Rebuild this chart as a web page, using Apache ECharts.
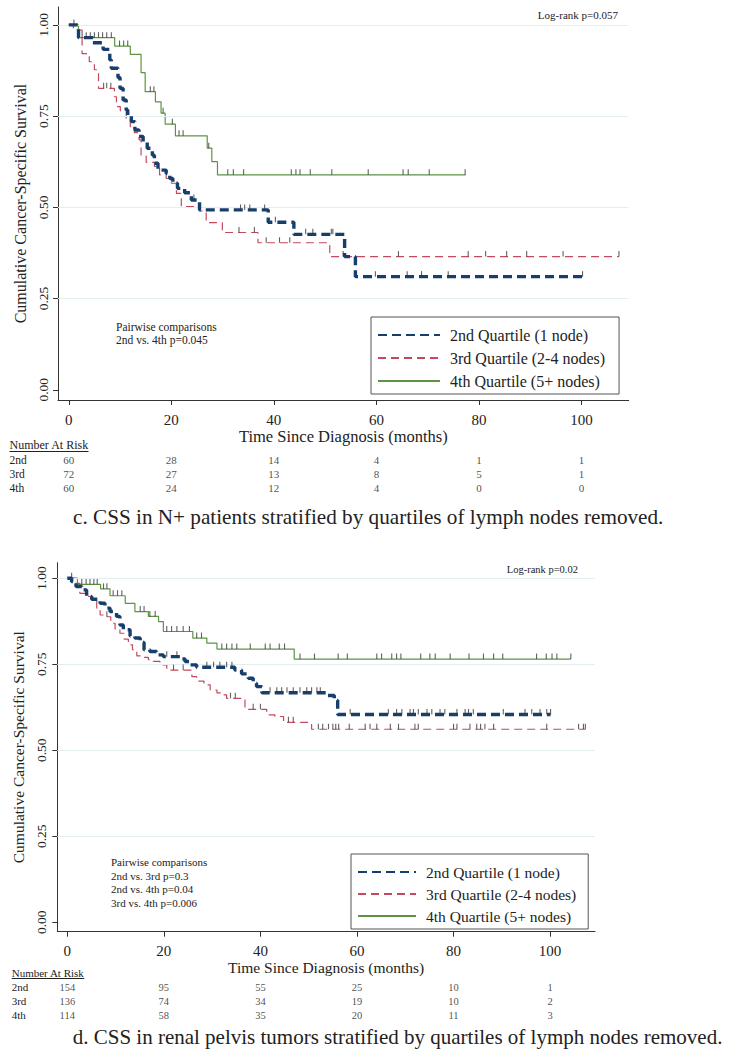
<!DOCTYPE html>
<html><head><meta charset="utf-8">
<script src="https://cdn.jsdelivr.net/npm/echarts@6/dist/echarts.min.js"></script>
<style>html,body{margin:0;padding:0;background:#fff}#c{width:734px;height:1050px}</style>
</head><body><div id="c"></div>
<script>
// ---------- data ----------
const groupNames = ['2nd Quartile (1 node)', '3rd Quartile (2-4 nodes)', '4th Quartile (5+ nodes)'];
const riskRows = ['2nd', '3rd', '4th'];
const xTicks = [0, 20, 40, 60, 80, 100];
const yTicks = [0, 0.25, 0.5, 0.75, 1];
const yGrid = [0.25, 0.5, 0.75, 1];

// Panel c: N+ patients
const cSteps2nd = [[0,1],[1.9,0.965],[4.7,0.951],[6.7,0.933],[8.0,0.904],[8.3,0.881],[9.6,0.856],[10.0,0.826],[10.6,0.794],[11.2,0.767],[11.5,0.753],[12.2,0.735],[12.9,0.712],[13.7,0.694],[14.5,0.680],[15.3,0.662],[16.3,0.643],[16.7,0.621],[17.4,0.602],[19.0,0.593],[19.7,0.579],[20.3,0.566],[21.2,0.552],[22.6,0.540],[23.9,0.520],[25.5,0.493],[38.9,0.459],[43.9,0.426],[53.8,0.365],[55.9,0.310],[100.2,0.310]];
const cSteps3rd = [[0,1],[0.9,0.986],[2.6,0.921],[4.0,0.899],[5.0,0.877],[5.8,0.826],[8.9,0.803],[9.3,0.776],[10.05,0.764],[11.2,0.744],[12.0,0.717],[12.8,0.705],[13.7,0.685],[14.1,0.641],[15.1,0.623],[16.7,0.612],[17.7,0.589],[19.0,0.579],[20.0,0.566],[21.0,0.538],[21.95,0.502],[25.6,0.490],[26.8,0.458],[29.95,0.431],[36.9,0.403],[50.9,0.365],[107.3,0.365]];
const cSteps4th = [[0,1],[1.9,0.965],[8.95,0.942],[12.0,0.919],[14.1,0.869],[14.9,0.817],[16.9,0.789],[18.0,0.758],[18.8,0.728],[20.8,0.696],[27.0,0.662],[27.9,0.625],[29.0,0.589],[77.4,0.589]];
const cCens2nd = [24.4,33.5,34.3,35.3,38.2,40.3,46.2,47.6,51.2,51.5,59.8,66.0,68.8,74.0,100.2];
const cCens3rd = [6.8,7.4,8.2,33.2,36.2,38.5,41.1,43.1,53.5,64.3,77.9,81.3,85.4,89.3,96.4,107.3];
const cCens4th = [1.0,2.6,3.4,4.2,5.0,5.8,6.6,7.4,8.3,9.9,10.7,11.5,15.9,16.6,18.4,20.2,21.5,22.3,27.3,31.0,32.1,34.1,43.4,44.3,45.1,47.1,51.3,58.4,65.2,66.2,70.3,77.3];
const cRisk2nd = [60, 28, 14, 4, 1, 1];
const cRisk3rd = [72, 27, 13, 8, 5, 1];
const cRisk4th = [60, 24, 12, 4, 0, 0];

// Panel d: renal pelvis tumors
const dSteps2nd = [[0,1],[0.9,0.990],[1.8,0.976],[3.0,0.966],[4.0,0.947],[5.05,0.939],[6.8,0.927],[7.8,0.913],[8.85,0.903],[10.2,0.889],[10.9,0.864],[11.6,0.850],[13.0,0.832],[14.0,0.826],[15.1,0.813],[15.9,0.792],[17.1,0.787],[18.5,0.777],[19.9,0.772],[23.7,0.765],[24.4,0.758],[25.4,0.748],[26.8,0.741],[34.7,0.733],[36.1,0.722],[37.5,0.709],[38.5,0.695],[39.2,0.685],[40.3,0.667],[53.7,0.659],[55.3,0.645],[56.0,0.604],[100.1,0.604]];
const dSteps3rd = [[0,1],[1.6,0.985],[2.6,0.956],[4.0,0.947],[5.05,0.937],[6.1,0.913],[6.8,0.893],[7.8,0.888],[9.0,0.869],[9.9,0.850],[10.9,0.840],[11.75,0.823],[12.65,0.806],[13.5,0.792],[14.4,0.774],[15.6,0.770],[16.8,0.763],[17.8,0.758],[19.2,0.748],[20.6,0.733],[25.8,0.714],[26.8,0.701],[28.3,0.690],[29.6,0.675],[31.0,0.667],[32.0,0.661],[33.0,0.651],[36.8,0.619],[41.3,0.603],[43.0,0.598],[44.8,0.581],[50.6,0.561],[107.3,0.561]];
const dSteps4th = [[0,1],[2.1,0.982],[6.9,0.969],[8.85,0.949],[12.0,0.927],[14.0,0.903],[16.8,0.889],[18.9,0.874],[19.9,0.845],[26.0,0.826],[28.9,0.811],[31.0,0.794],[47.0,0.765],[104.3,0.765]];
const dCens2nd = [20.6,22.7,28.9,30.3,31.6,33.0,34.1,42.0,43.4,44.4,45.5,46.8,48.2,49.6,50.6,51.7,52.4,58.6,66.5,68.2,69.3,71.0,71.7,72.7,74.5,75.5,77.2,78.2,80.7,82.4,83.1,84.1,90.3,94.8,96.2,97.9,99.3,100.1];
const dCens3rd = [8.2,22.0,24.0,33.8,34.8,38.5,40.0,45.8,46.8,52.0,52.9,54.1,55.0,55.6,56.2,58.4,61.7,62.7,64.1,66.9,68.6,72.0,72.7,80.0,80.7,83.4,84.8,85.6,86.5,88.3,99.3,105.9,106.9,107.3];
const dCens4th = [0.9,3.0,3.9,4.7,5.5,6.2,7.5,8.2,9.5,10.4,11.3,15.1,15.9,17.1,18.2,20.6,21.6,22.7,24.0,25.3,26.8,27.8,32.0,33.0,34.1,35.1,37.9,41.0,42.0,43.9,45.0,48.2,51.2,56.1,58.0,64.1,65.1,67.2,68.2,69.1,73.2,75.1,76.2,79.3,83.2,86.2,88.3,90.2,97.2,99.2,100.4,101.4,104.3];
const dRisk2nd = [154, 95, 55, 25, 10, 1];
const dRisk3rd = [136, 74, 34, 19, 10, 2];
const dRisk4th = [114, 58, 35, 20, 11, 3];

// ---------- layout & style ----------
const FONT = '"Liberation Serif", "Times New Roman", "DejaVu Serif", serif';
const INK = '#222';
const lineStyles = [
  {color: '#173f6d', width: 3.4, type: [9, 5], z: 5},
  {color: '#c4495e', width: 1.2, type: [8, 5], z: 4},
  {color: '#5c9444', width: 1.2, type: 'solid', z: 3}
];
const panels = [
  {steps: [cSteps2nd, cSteps3rd, cSteps4th], cens: [cCens2nd, cCens3rd, cCens4th], risk: [cRisk2nd, cRisk3rd, cRisk4th],
   gl: 58, gt: 7, gw: 570.7, gh: 393, xmin: -2.1, xmax: 109.2, ymin: -0.028, ymax: 1.049,
   tt: 453, th: 42, xfs: 15, xm: 12, xnfs: 16.5, xng: 27, yfs: 13.5, ym: 8, ynfs: 16, yng: 25, rfs: 11.5, nfs: 11, rm: 48.5,
   legend: {left: 371, top: 317, fs: 16, iw: 62, gap: 7, pad: [10, 14, 5, 6]}},
  {steps: [dSteps2nd, dSteps3rd, dSteps4th], cens: [dCens2nd, dCens3rd, dCens4th], risk: [dRisk2nd, dRisk3rd, dRisk4th],
   gl: 57.3, gt: 562.7, gw: 537.7, gh: 369, xmin: -2.07, xmax: 109.3, ymin: -0.0273, ymax: 1.045,
   tt: 980, th: 42, xfs: 15, xm: 11.5, xnfs: 15.5, xng: 26, yfs: 13.5, ym: 9, ynfs: 15.5, yng: 24, rfs: 11, nfs: 10.5, rm: 45.6,
   legend: {left: 351, top: 854, fs: 15.5, iw: 58, gap: 6, pad: [10, 12, 5, 6]}}
];

function stepAt(steps, t) {
  let s = steps[0][1];
  for (const p of steps) { if (p[0] <= t + 1e-9) s = p[1]; else break; }
  return s;
}

const grid = [], xAxis = [], yAxis = [], series = [], legend = [];
panels.forEach((p, k) => {
  const pi = 2 * k, ti = 2 * k + 1;
  grid.push({left: p.gl, top: p.gt, width: p.gw, height: p.gh});
  grid.push({left: p.gl, top: p.tt, width: p.gw, height: p.th});
  xAxis.push({gridIndex: pi, type: 'value', min: p.xmin, max: p.xmax,
    axisLine: {show: true, onZero: false, lineStyle: {color: '#333', width: 1}},
    axisTick: {show: true, customValues: xTicks, length: 5, lineStyle: {color: '#333', width: 1}},
    axisLabel: {customValues: xTicks, fontSize: p.xfs, fontFamily: FONT, color: INK, margin: p.xm},
    splitLine: {show: false},
    name: 'Time Since Diagnosis (months)', nameLocation: 'middle', nameGap: p.xng,
    nameTextStyle: {fontSize: p.xnfs, fontFamily: FONT, color: INK}});
  xAxis.push({gridIndex: ti, type: 'value', min: p.xmin, max: p.xmax, show: false});
  yAxis.push({gridIndex: pi, type: 'value', min: p.ymin, max: p.ymax,
    axisLine: {show: true, onZero: false, lineStyle: {color: '#333', width: 1}},
    axisTick: {show: true, customValues: yTicks, length: 5, lineStyle: {color: '#333', width: 1}},
    axisLabel: {customValues: yTicks, rotate: 90, formatter: v => Number(v).toFixed(2), fontSize: p.yfs, fontFamily: FONT, color: INK, margin: p.ym},
    splitLine: {show: false},
    name: 'Cumulative Cancer-Specific Survival', nameLocation: 'middle', nameRotate: 90, nameGap: p.yng,
    nameTextStyle: {fontSize: p.ynfs, fontFamily: FONT, color: INK}});
  yAxis.push({gridIndex: ti, type: 'category', data: riskRows, inverse: true,
    axisLine: {show: false}, axisTick: {show: false}, splitLine: {show: false},
    axisLabel: {interval: 0, align: 'left', margin: p.rm, fontSize: p.rfs, fontFamily: FONT, color: INK}});

  // gridlines
  series.push({type: 'line', name: 'grid' + k, xAxisIndex: pi, yAxisIndex: pi, data: [], z: 1, silent: true,
    markLine: {silent: true, symbol: ['none', 'none'], label: {show: false}, animation: false,
      lineStyle: {color: '#e2eef0', width: 1, type: 'solid'}, emphasis: {disabled: true},
      data: yGrid.map(v => ({yAxis: v}))}});

  // draw order: 4th, 3rd, 2nd
  [2, 1, 0].forEach(j => {
    const st = lineStyles[j];
    series.push({name: groupNames[j], type: 'line', step: 'end', xAxisIndex: pi, yAxisIndex: pi,
      data: p.steps[j], symbol: 'none', showSymbol: false, silent: true, z: st.z,
      lineStyle: {color: st.color, width: st.width, type: st.type}, itemStyle: {color: st.color}});
  });
  [2, 1, 0].forEach(j => {
    series.push({name: 'censor' + k + '-' + j, type: 'scatter', xAxisIndex: pi, yAxisIndex: pi, silent: true, z: 6,
      symbol: 'rect', symbolSize: [1.1, 5.5], symbolOffset: [0, -2.75], itemStyle: {color: '#3a3a3a'},
      data: p.cens[j].map(t => [t, stepAt(p.steps[j], t)])});
  });
  // number at risk
  const rows = [];
  p.risk.forEach((arr, r) => arr.forEach((v, i) => rows.push([xTicks[i], riskRows[r], v])));
  series.push({name: 'risk' + k, type: 'scatter', xAxisIndex: ti, yAxisIndex: ti, silent: true,
    symbolSize: 1, itemStyle: {color: 'rgba(0,0,0,0)'}, data: rows,
    label: {show: true, position: 'inside', formatter: q => String(q.data[2]), fontSize: p.nfs, fontFamily: FONT, color: INK}});

  const lg = p.legend;
  legend.push({data: groupNames, orient: 'vertical', left: lg.left, top: lg.top, itemWidth: lg.iw, itemHeight: 14,
    itemGap: lg.gap, padding: lg.pad, borderColor: '#555', borderWidth: 1, backgroundColor: '#fff', selectedMode: false,
    itemStyle: {color: 'rgba(0,0,0,0)', borderColor: 'rgba(0,0,0,0)', borderWidth: 0, opacity: 0},
    textStyle: {fontSize: lg.fs, fontFamily: FONT, color: INK, padding: [0, 0, 0, 5]}});
});

function txt(x, y, s, fs, align) {
  return {type: 'text', x: x, y: y, silent: true, z: 10,
    style: {text: s, fontSize: fs, fontFamily: FONT, fill: INK, align: align || 'left', verticalAlign: 'middle'}};
}
const graphic = [
  txt(618, 15, 'Log-rank p=0.057', 11, 'right'),
  txt(116, 326.7, 'Pairwise comparisons', 11.5),
  txt(116, 340, '2nd vs. 4th p=0.045', 11.5),
  txt(9.5, 445, 'Number At Risk', 12),
  {type: 'line', silent: true, shape: {x1: 9.5, y1: 451.5, x2: 88.5, y2: 451.5}, style: {stroke: INK, lineWidth: 1}},
  txt(73, 517, 'c. CSS in N+ patients stratified by quartiles of lymph nodes removed.', 21.2),

  txt(578, 569, 'Log-rank p=0.02', 10.5, 'right'),
  txt(111, 862.3, 'Pairwise comparisons', 11),
  txt(111, 875.7, '2nd vs. 3rd p=0.3', 11),
  txt(111, 889, '2nd vs. 4th p=0.04', 11),
  txt(111, 902.7, '3rd vs. 4th p=0.006', 11),
  txt(11.7, 973, 'Number At Risk', 11),
  {type: 'line', silent: true, shape: {x1: 11.7, y1: 978.5, x2: 84.3, y2: 978.5}, style: {stroke: INK, lineWidth: 1}},
  txt(72.7, 1036.5, 'd. CSS in renal pelvis tumors stratified by quartiles of lymph nodes removed.', 21)
];

const chart = echarts.init(document.getElementById('c'), null, {renderer: 'svg', width: 734, height: 1050});
chart.setOption({animation: false, backgroundColor: '#fff', grid, xAxis, yAxis, series, legend, graphic});
</script></body></html>
